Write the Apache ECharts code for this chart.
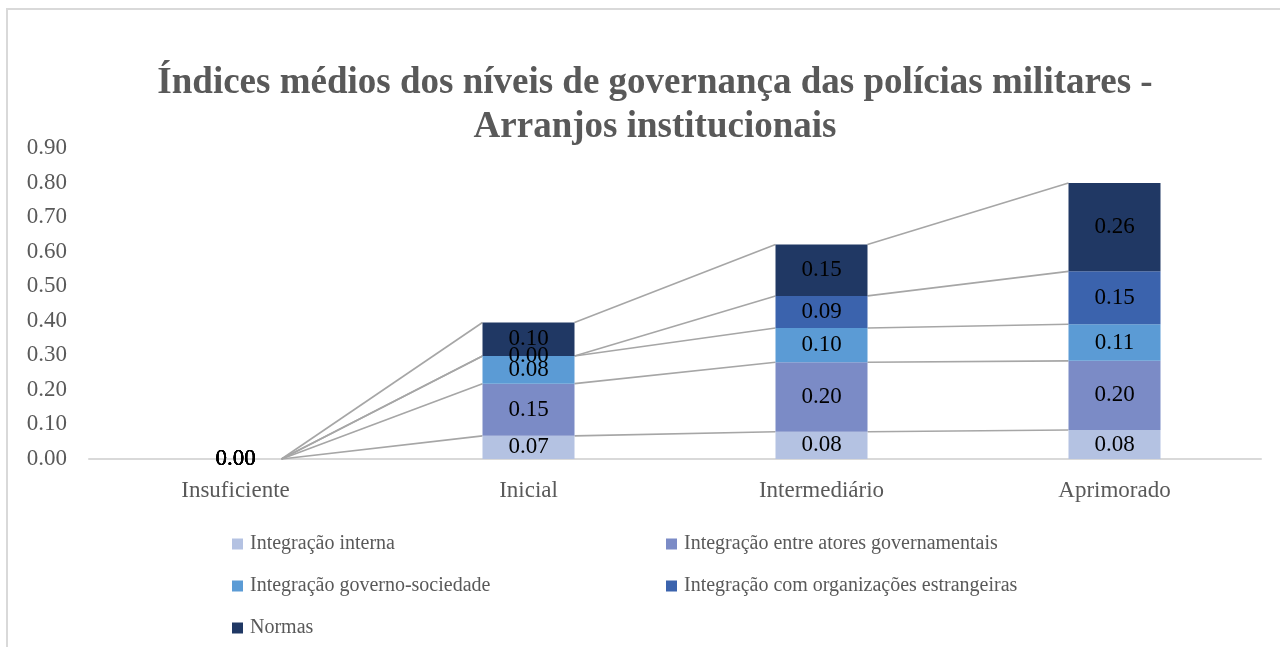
<!DOCTYPE html>
<html>
<head>
<meta charset="UTF-8">
<title>Arranjos institucionais</title>
<script type="text/javascript" src="https://cdn.jsdelivr.net/npm/echarts@6/dist/echarts.min.js"></script>
</head>
<body style="margin:0;background:#fff;">

<div id="box" style="width:1280px;height:647px;"></div>

<script type="text/javascript">

// categorias do eixo x
var niveis = ['Insuficiente', 'Inicial', 'Intermediário', 'Aprimorado'];
// séries (empilhadas)
var nomes = [
  'Integração interna',
  'Integração entre atores governamentais',
  'Integração governo-sociedade',
  'Integração com organizações estrangeiras',
  'Normas'
];
var integracaoInterna = [0, 0.067, 0.079, 0.084];
var integracaoAtores = [0, 0.151, 0.201, 0.200];
var integracaoSociedade = [0, 0.080, 0.099, 0.106];
var integracaoEstrangeiras = [0, 0.000, 0.093, 0.153];
var normas = [0, 0.097, 0.149, 0.256];
// rótulos do eixo y
var yTicks = [0, 0.1, 0.2, 0.3, 0.4, 0.5, 0.6, 0.7, 0.8, 0.9];

var cores = ['#b4c2e2', '#7b8bc6', '#5b9bd5', '#3b63ad', '#203864'];
var valores = [integracaoInterna, integracaoAtores, integracaoSociedade, integracaoEstrangeiras, normas];
var larguraBarra = 0.314;
var fonte = '"Liberation Serif", "Times New Roman", serif';

var mychart = echarts.init(document.getElementById('box'));

// acumulados para as linhas de série
var acum = [];
var soma = niveis.map(function () { return 0; });
valores.forEach(function (v) {
  soma = soma.map(function (s, i) { return s + v[i]; });
  acum.push(soma.slice());
});
var linhasDados = [];
acum.forEach(function (c) {
  for (var i = 0; i < niveis.length - 1; i++) {
    linhasDados.push([i, c[i], c[i + 1]]);
  }
});

var series = valores.map(function (v, k) {
  return {
    name: nomes[k],
    type: 'bar',
    stack: 'total',
    barWidth: (larguraBarra * 100) + '%',
    itemStyle: { color: cores[k] },
    label: {
      show: true,
      position: 'inside',
      color: '#000',
      fontFamily: fonte,
      fontSize: 23,
      padding: [4, 0, 0, 0],
      formatter: function (p) { return p.value.toFixed(2); }
    },
    data: v
  };
});

series.push({
  type: 'custom',
  name: 'linhas',
  silent: true,
  z: 1,
  encode: { x: 0, y: [1, 2] },
  renderItem: function (params, api) {
    var i = api.value(0);
    var p0 = api.coord([i, api.value(1)]);
    var p1 = api.coord([i + 1, api.value(2)]);
    var meia = api.size([1, 0])[0] * larguraBarra / 2;
    return {
      type: 'line',
      shape: { x1: p0[0] + meia, y1: p0[1], x2: p1[0] - meia, y2: p1[1] },
      style: { stroke: '#a6a6a6', lineWidth: 1.6 }
    };
  },
  data: linhasDados
});

var legendaTexto = { color: '#595959', fontFamily: fonte, fontSize: 20, lineHeight: 20, padding: [0, 0, 0, 2] };

var option = {
  animation: false,
  backgroundColor: '#fff',
  title: {
    text: 'Índices médios dos níveis de governança das polícias militares -\nArranjos institucionais',
    left: 650,
    textAlign: 'center',
    top: 56,
    textStyle: {
      color: '#595959',
      fontFamily: fonte,
      fontWeight: 'bold',
      fontSize: 37,
      lineHeight: 44
    }
  },
  graphic: [{
    type: 'rect',
    shape: { x: 7, y: 9, width: 1300, height: 700 },
    style: { fill: 'none', stroke: '#d9d9d9', lineWidth: 2 },
    silent: true
  }],
  legend: [{
    left: 227,
    top: 529,
    orient: 'vertical',
    itemWidth: 11,
    itemHeight: 11,
    itemGap: 22,
    icon: 'rect',
    textStyle: legendaTexto,
    data: [nomes[0], nomes[2], nomes[4]]
  }, {
    left: 661,
    top: 529,
    orient: 'vertical',
    itemWidth: 11,
    itemHeight: 11,
    itemGap: 22,
    icon: 'rect',
    textStyle: legendaTexto,
    data: [nomes[1], nomes[3]]
  }],
  grid: { left: 89, right: 19, top: 148, bottom: 188, containLabel: false },
  xAxis: {
    type: 'category',
    data: niveis,
    axisLine: { lineStyle: { color: '#d9d9d9', width: 2 } },
    axisTick: { show: false },
    axisLabel: { color: '#595959', fontFamily: fonte, fontSize: 23, margin: 20 }
  },
  yAxis: {
    type: 'value',
    min: yTicks[0],
    max: yTicks[yTicks.length - 1],
    interval: 0.1,
    axisLine: { show: false },
    axisTick: { show: false },
    splitLine: { show: false },
    axisLabel: {
      color: '#595959',
      fontFamily: fonte,
      fontSize: 23,
      margin: 22,
      padding: [6, 0, 0, 0],
      formatter: function (v) { return v.toFixed(2); }
    }
  },
  series: series
};

mychart.setOption(option);
</script>
</body>
</html>
